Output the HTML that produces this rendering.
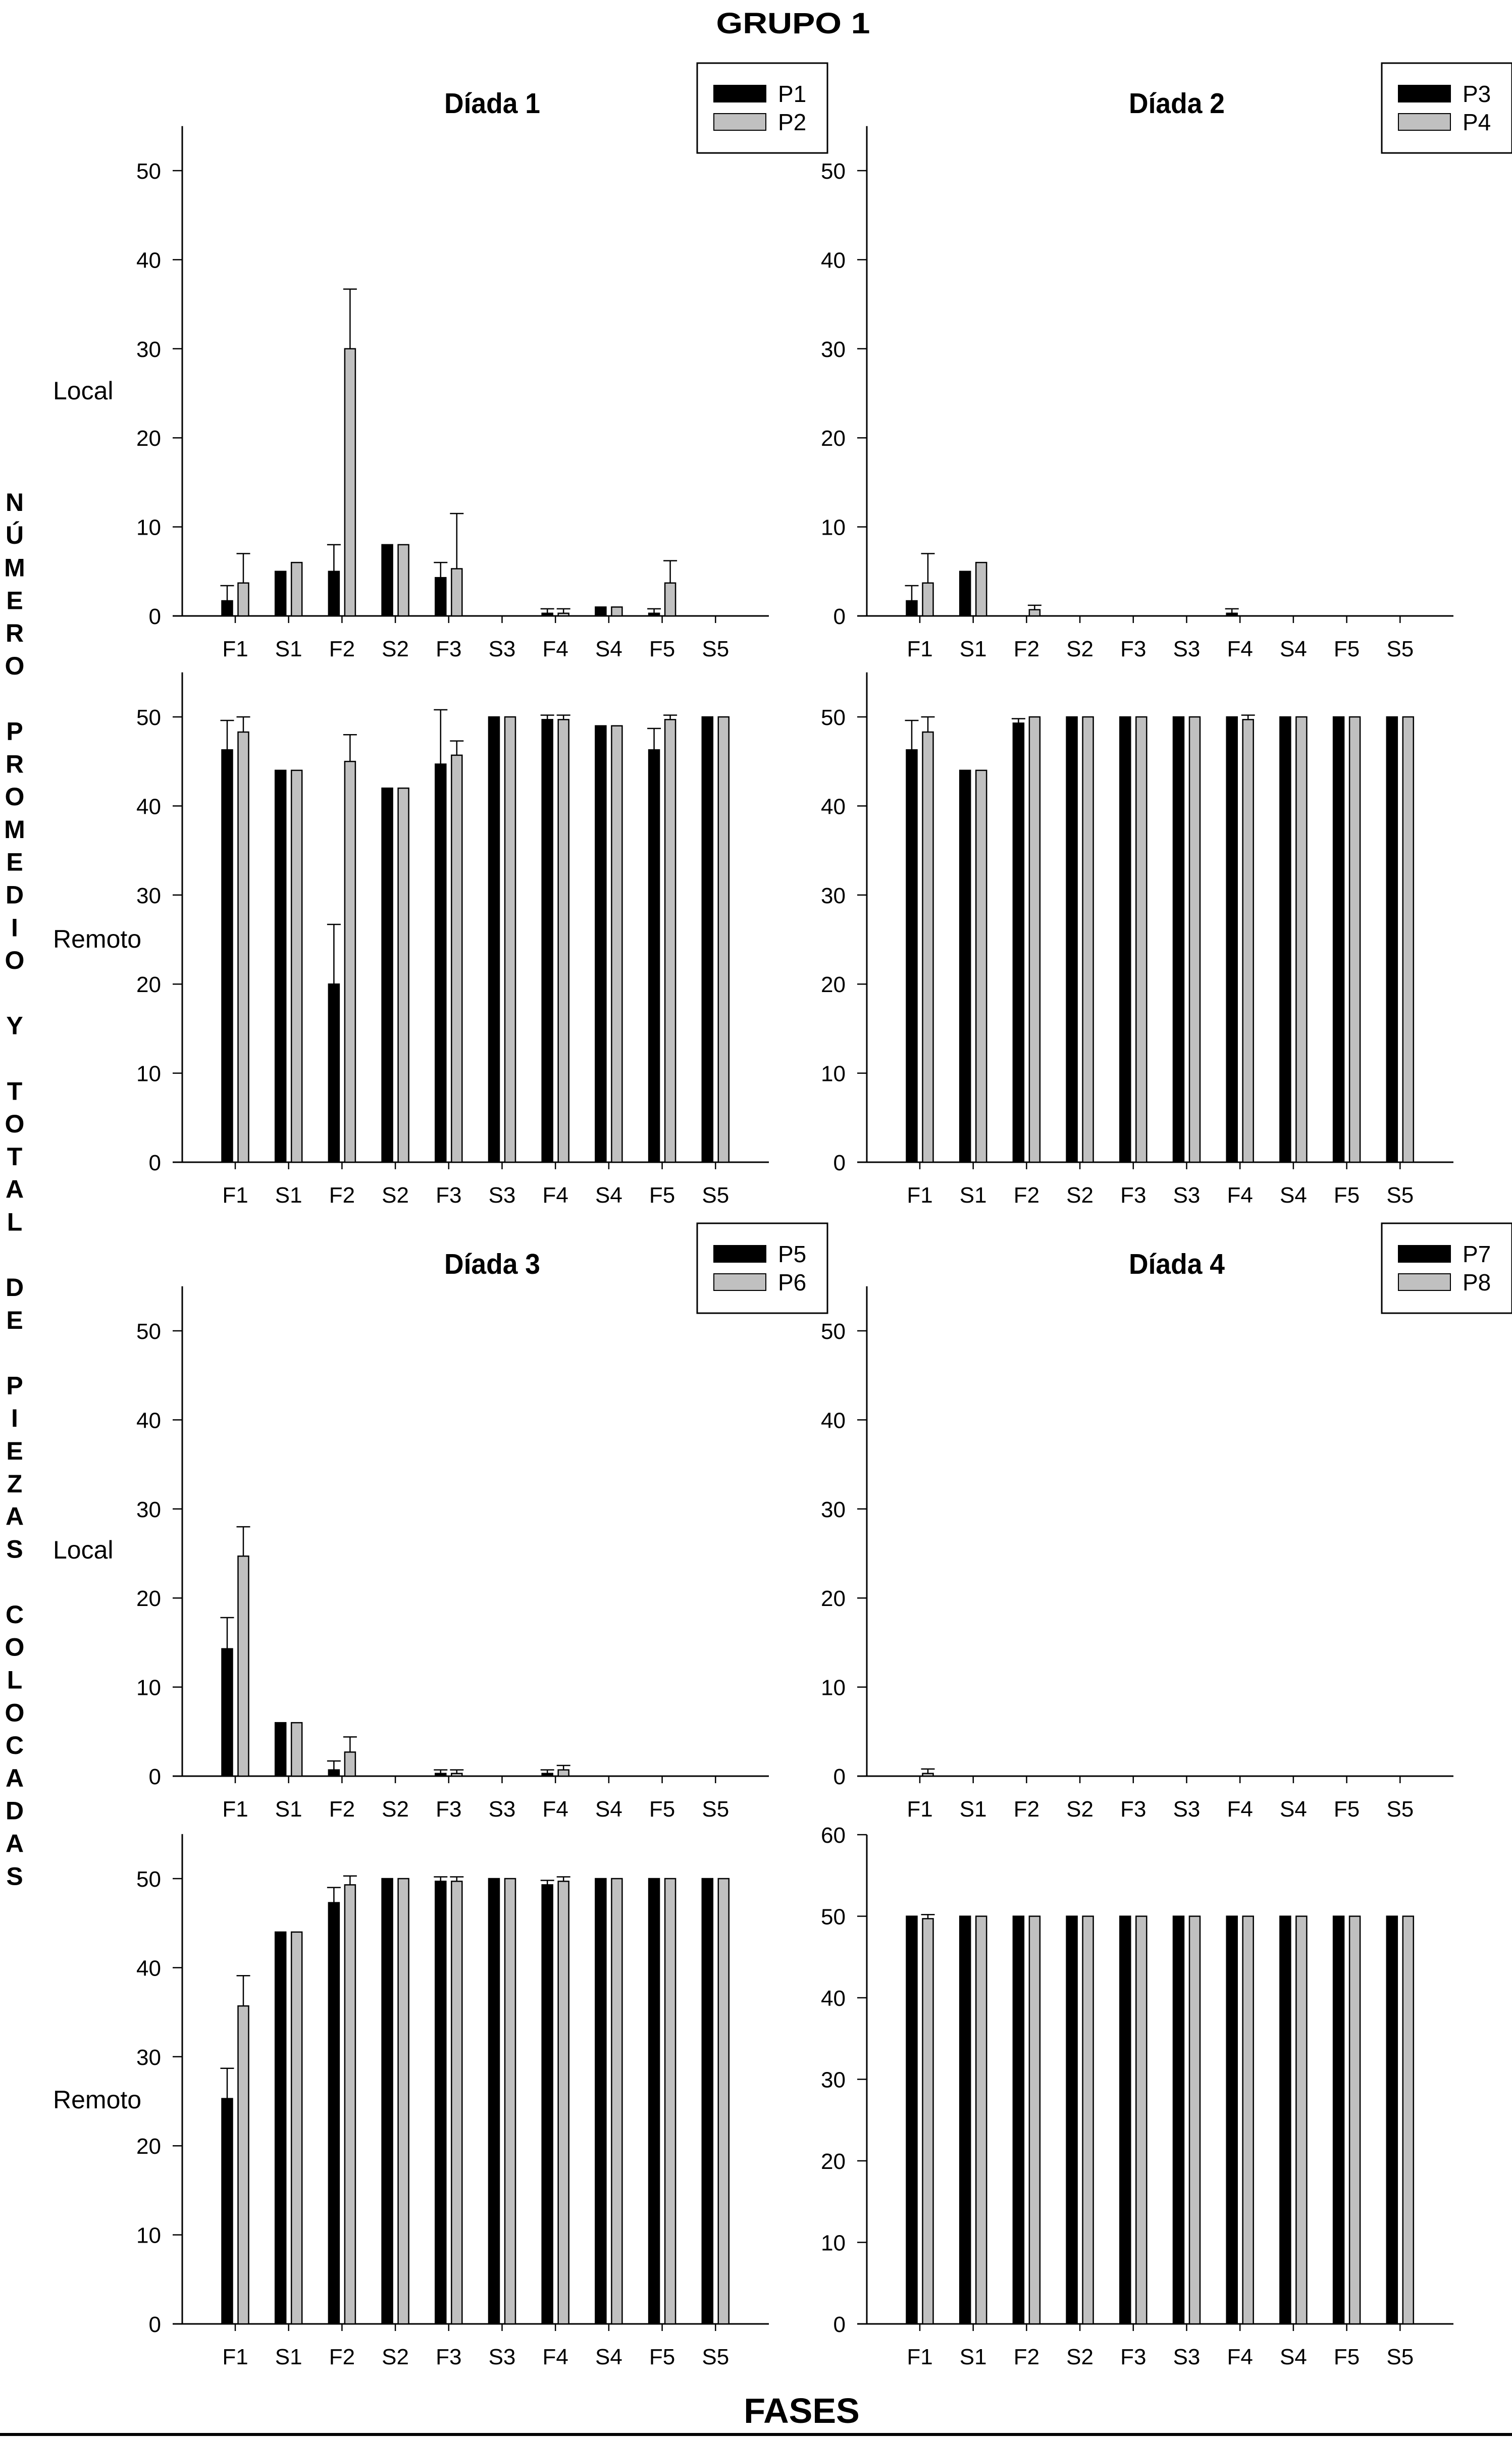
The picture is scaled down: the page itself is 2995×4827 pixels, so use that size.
<!DOCTYPE html>
<html><head><meta charset="utf-8"><style>
html,body{margin:0;padding:0;background:#fff;}
svg{display:block;}
text{font-family:"Liberation Sans",sans-serif;}
</style></head><body>
<svg id="chart" xmlns="http://www.w3.org/2000/svg" width="2995" height="4827" viewBox="0 0 2995 4827">
<rect x="0" y="0" width="2995" height="4827" fill="#fff"/>
<text x="1571" y="66" font-size="58" font-weight="bold" text-anchor="middle" textLength="305" lengthAdjust="spacingAndGlyphs">GRUPO 1</text>
<text x="1588" y="4799" font-size="70" font-weight="bold" text-anchor="middle">FASES</text>
<rect x="0" y="4819" width="2995" height="6" fill="#000"/>
<g id="ytitle"></g>
<g id="plots"></g>
</svg>
<script>
const categories = ["F1","S1","F2","S2","F3","S3","F4","S4","F5","S5"];
// Díada 1
const d1LocalP1 = [1.7,5,5,8,4.3,0,0.3,1,0.3,0];
const d1LocalP1Err = [1.7,0,3,0,1.7,0,0.5,0,0.5,0];
const d1LocalP2 = [3.7,6,30,8,5.3,0,0.3,1,3.7,0];
const d1LocalP2Err = [3.3,0,6.7,0,6.2,0,0.5,0,2.5,0];
const d1RemP1 = [46.3,44,20,42,44.7,50,49.7,49,46.3,50];
const d1RemP1Err = [3.3,0,6.7,0,6.1,0,0.5,0,2.4,0];
const d1RemP2 = [48.3,44,45,42,45.7,50,49.7,49,49.7,50];
const d1RemP2Err = [1.7,0,3,0,1.6,0,0.5,0,0.5,0];
// Díada 2
const d2LocalP3 = [1.7,5,0,0,0,0,0.3,0,0,0];
const d2LocalP3Err = [1.7,0,0,0,0,0,0.5,0,0,0];
const d2LocalP4 = [3.7,6,0.7,0,0,0,0,0,0,0];
const d2LocalP4Err = [3.3,0,0.5,0,0,0,0,0,0,0];
const d2RemP3 = [46.3,44,49.3,50,50,50,50,50,50,50];
const d2RemP3Err = [3.3,0,0.5,0,0,0,0,0,0,0];
const d2RemP4 = [48.3,44,50,50,50,50,49.7,50,50,50];
const d2RemP4Err = [1.7,0,0,0,0,0,0.5,0,0,0];
// Díada 3
const d3LocalP5 = [14.3,6,0.7,0,0.3,0,0.3,0,0,0];
const d3LocalP5Err = [3.5,0,1,0,0.4,0,0.4,0,0,0];
const d3LocalP6 = [24.7,6,2.7,0,0.3,0,0.7,0,0,0];
const d3LocalP6Err = [3.3,0,1.7,0,0.4,0,0.5,0,0,0];
const d3RemP5 = [25.3,44,47.3,50,49.7,50,49.3,50,50,50];
const d3RemP5Err = [3.4,0,1.7,0,0.5,0,0.5,0,0,0];
const d3RemP6 = [35.7,44,49.3,50,49.7,50,49.7,50,50,50];
const d3RemP6Err = [3.4,0,1,0,0.5,0,0.5,0,0,0];
// Díada 4
const d4LocalP7 = [0,0,0,0,0,0,0,0,0,0];
const d4LocalP7Err = [0,0,0,0,0,0,0,0,0,0];
const d4LocalP8 = [0.3,0,0,0,0,0,0,0,0,0];
const d4LocalP8Err = [0.5,0,0,0,0,0,0,0,0,0];
const d4RemP7 = [50,50,50,50,50,50,50,50,50,50];
const d4RemP7Err = [0,0,0,0,0,0,0,0,0,0];
const d4RemP8 = [49.7,50,50,50,50,50,50,50,50,50];
const d4RemP8Err = [0.5,0,0,0,0,0,0,0,0,0];
const ticks50 = [0,10,20,30,40,50];
const ticks60 = [0,10,20,30,40,50,60];
const yTitle = "NÚMERO PROMEDIO Y TOTAL DE PIEZAS COLOCADAS";

const NS="http://www.w3.org/2000/svg";
const root=document.getElementById('plots');
function mk(tag,attrs,parent){const e=document.createElementNS(NS,tag);for(const k in attrs)e.setAttribute(k,attrs[k]);(parent||root).appendChild(e);return e;}

// vertical y title
const yt=document.getElementById('ytitle');
for(let i=0;i<yTitle.length;i++){
  const ch=yTitle[i]; if(ch===' ')continue;
  const t=mk('text',{x:29,y:994+i*21.05*3.078+18,'font-size':50,'font-weight':'bold','text-anchor':'middle'},yt);
  t.textContent=ch;
}

function panel(name,x0,y0,maxV,ticks,pixPerUnit,topV,s1,e1,s2,e2,label){
  const g=mk('g',{});
  
  
  const y=v=>y0-v*pixPerUnit;
  const cx=i=>x0+105+i*105.7;
  // axes
  const ya=mk('line',{x1:x0,y1:y(topV),x2:x0,y2:y0+1,stroke:'#000','stroke-width':3},g);
  
  
  const xa=mk('line',{x1:x0-19,y1:y0,x2:x0+1162,y2:y0,stroke:'#000','stroke-width':3},g);
  
  
  ticks.forEach(tv=>{
    mk('line',{x1:x0-19,y1:y(tv),x2:x0,y2:y(tv),stroke:'#000','stroke-width':2.5},g);
    const t=mk('text',{x:x0-42,y:y(tv)+16,'font-size':44,'text-anchor':'end'},g);
    
    
    t.textContent=tv;
  });
  categories.forEach((c,i)=>{
    mk('line',{x1:cx(i),y1:y0,x2:cx(i),y2:y0+14,stroke:'#000','stroke-width':2.5},g);
    const t=mk('text',{x:cx(i),y:y0+80,'font-size':44,'text-anchor':'middle'},g);
    
    
    t.textContent=c;
  });
  function series(vals,errs,off,fill,sname){
    vals.forEach((v,i)=>{
      const bx=cx(i)+off-10.5;
      if(v>0){
        const r=mk('rect',{x:bx,y:y(v),width:21,height:y0-y(v),fill:fill,stroke:'#000','stroke-width':2.5},g);
        
        
      }
      if(errs[i]>0){
        const top=y(v+errs[i]);
        const l=mk('line',{x1:bx+10.5,y1:y(v),x2:bx+10.5,y2:top,stroke:'#000','stroke-width':2.5},g);
        
        
        mk('line',{x1:bx-3,y1:top,x2:bx+24,y2:top,stroke:'#000','stroke-width':2.5},g);
      }
    });
  }
  series(s1,e1,-16,'#000',label[0]);
  series(s2,e2,16,'#c0c0c0',label[1]);
}
function rowLabel(txt,y){const t=mk('text',{x:105,y:y+18,'font-size':50});t.textContent=txt;}
function title(txt,x,y){const t=mk('text',{x:x,y:y+21,'font-size':57,'font-weight':'bold','text-anchor':'middle',textLength:190,lengthAdjust:'spacingAndGlyphs'});t.textContent=txt;}
function legend(x,y,a,b){
  const g=mk('g',{});
  
  
  mk('rect',{x:x,y:y,width:258,height:178,fill:'#fff',stroke:'#000','stroke-width':3},g);
  mk('rect',{x:x+33,y:y+44,width:103,height:33,fill:'#000',stroke:'#000','stroke-width':2},g);
  mk('rect',{x:x+33,y:y+100,width:103,height:33,fill:'#c0c0c0',stroke:'#000','stroke-width':2},g);
  const t1=mk('text',{x:x+160,y:y+77,'font-size':46},g);t1.textContent=a;
  
  
  const t2=mk('text',{x:x+160,y:y+133,'font-size':46},g);t2.textContent=b;
  
  
}
const U=17.64, L=361, R=1717;
title('Díada 1',975,203); title('Díada 2',2331,203);
title('Díada 3',975,2502); title('Díada 4',2331,2502);
legend(1381,125,'P1','P2'); legend(2737,125,'P3','P4');
legend(1381,2423,'P5','P6'); legend(2737,2423,'P7','P8');
rowLabel('Local',773); rowLabel('Remoto',1859); rowLabel('Local',3069); rowLabel('Remoto',4158);
panel('diada1-local',L,1220,50,ticks50,U,55,d1LocalP1,d1LocalP1Err,d1LocalP2,d1LocalP2Err,['p1','p2']);
panel('diada1-remoto',L,2302,50,ticks50,U,55,d1RemP1,d1RemP1Err,d1RemP2,d1RemP2Err,['p1','p2']);
panel('diada2-local',R,1220,50,ticks50,U,55,d2LocalP3,d2LocalP3Err,d2LocalP4,d2LocalP4Err,['p3','p4']);
panel('diada2-remoto',R,2302,50,ticks50,U,55,d2RemP3,d2RemP3Err,d2RemP4,d2RemP4Err,['p3','p4']);
panel('diada3-local',L,3518,50,ticks50,U,55,d3LocalP5,d3LocalP5Err,d3LocalP6,d3LocalP6Err,['p5','p6']);
panel('diada3-remoto',L,4603,50,ticks50,U,55,d3RemP5,d3RemP5Err,d3RemP6,d3RemP6Err,['p5','p6']);
panel('diada4-local',R,3518,50,ticks50,U,55,d4LocalP7,d4LocalP7Err,d4LocalP8,d4LocalP8Err,['p7','p8']);
panel('diada4-remoto',R,4603,60,ticks60,16.15,60,d4RemP7,d4RemP7Err,d4RemP8,d4RemP8Err,['p7','p8']);
</script>
</body></html>
